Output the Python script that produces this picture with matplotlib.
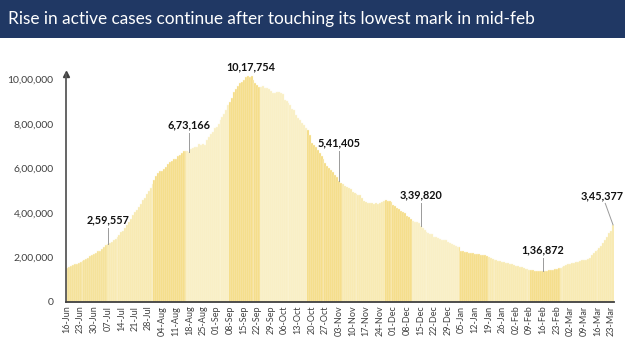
import matplotlib
matplotlib.use("Agg")
import matplotlib.pyplot as plt
import matplotlib.dates as mdates
from matplotlib.patches import Rectangle
import numpy as np
import pandas as pd

# Active COVID-19 cases in India, daily, in thousands (16-Jun-2020 to 24-Mar-2021)
jun = [153.178, 155.227, 160.384, 163.248, 168.269, 169.451, 174.387, 178.014,
       183.022, 186.514, 189.463, 197.387, 203.051, 210.120, 215.125]
jul = [220.114, 226.947, 227.439, 235.433, 244.814, 253.287, 259.557, 264.944,
       269.789, 276.882, 283.407, 292.258, 301.609, 311.565, 319.840, 331.146,
       342.473, 358.692, 373.379, 390.459, 402.529, 411.133, 426.167, 440.135,
       456.071, 467.882, 485.114, 496.988, 509.447, 528.242, 545.318]
aug = [565.103, 579.357, 586.298, 586.244, 595.501, 607.384, 619.088, 628.747,
       634.945, 639.929, 643.948, 653.622, 661.595, 668.220, 676.900, 677.444,
       676.514, 673.166, 686.395, 692.028, 697.330, 697.330, 707.668, 704.348,
       710.771, 707.267, 725.991, 742.023, 752.424, 765.302, 781.975]
sep = [785.996, 801.282, 815.538, 831.124, 846.395, 862.320, 883.697, 897.394,
       919.018, 943.480, 958.316, 973.175, 986.598, 990.061, 995.933, 1009.976,
       1017.754, 1010.824, 1013.964, 998.000, 986.000, 975.861, 968.377, 966.382,
       970.116, 960.969, 962.640, 956.402, 947.576, 940.441]
oct_ = [940.705, 944.996, 942.217, 937.625, 934.427, 907.883, 902.425, 893.592,
        883.185, 867.496, 861.853, 838.729, 826.876, 817.000, 804.528, 795.087,
        783.311, 772.055, 748.538, 715.000, 703.000, 695.509, 680.680, 668.154,
        654.000, 640.000, 626.000, 610.803, 603.687, 594.386, 582.649]
nov = [570.458, 561.908, 541.405, 533.787, 527.962, 520.773, 516.632, 509.673,
       505.265, 494.657, 489.294, 484.547, 480.719, 479.216, 465.478, 453.401,
       446.805, 444.746, 443.794, 443.303, 440.962, 443.486, 438.667, 444.746,
       447.803, 452.344, 455.555, 454.940, 453.956, 446.952]
dec = [435.603, 428.644, 422.943, 416.082, 409.689, 403.248, 396.729, 383.866,
       378.909, 372.293, 363.749, 359.819, 356.546, 352.586, 339.820, 332.002,
       322.366, 313.831, 308.751, 305.344, 303.639, 292.518, 289.240, 283.849,
       281.919, 278.690, 277.301, 277.301, 268.581, 262.272, 257.656]
jan = [254.254, 250.183, 247.220, 243.953, 228.083, 227.546, 224.190, 222.526,
       220.676, 220.000, 216.558, 214.507, 213.027, 213.603, 211.033, 208.826,
       208.012, 203.063, 200.528, 197.201, 192.308, 188.688, 185.662, 184.182,
       184.408, 178.950, 176.498, 173.740, 171.686, 169.824, 168.235]
feb = [163.353, 160.057, 159.590, 155.025, 154.823, 151.460, 148.609, 148.590,
       143.625, 142.000, 140.000, 138.000, 137.300, 137.500, 137.200, 136.872,
       137.500, 138.500, 140.000, 142.000, 144.000, 146.000, 148.000, 150.000,
       152.000, 155.000, 160.000, 164.000]
mar = [168.000, 170.000, 173.000, 174.000, 176.000, 180.000, 184.000, 188.000,
       189.000, 189.000, 190.000, 196.000, 210.000, 219.000, 226.000, 234.000,
       242.000, 252.000, 262.000, 276.000, 289.000, 309.000, 319.000, 345.377]

start_date = "2020-06-16"

# highlighted values
ann_dates = ["2020-07-07", "2020-08-18", "2020-09-17", "2020-11-03",
             "2020-12-15", "2021-02-16", "2021-03-24"]
ann_labels = ["2,59,557", "6,73,166", "10,17,754", "5,41,405",
              "3,39,820", "1,36,872", "3,45,377"]

values = np.array(jun + jul + aug + sep + oct_ + nov + dec + jan + feb + mar) * 1000
dates = pd.date_range(start_date, periods=len(values), freq="D")

# alternating shade blocks (day index where each block starts)
block_starts = [0, 21, 45, 62, 84, 100, 124, 142, 164, 178, 202, 217, 239, 254]
block_shades = ["#f4de8a", "#f7e8a8", "#f4d877", "#f9eec0", "#f4d877", "#f9eec0",
                "#f4d877", "#f7e8a8", "#f4d877", "#f9eec0", "#f4d877", "#f7e8a8",
                "#f4d877", "#f7e8a8"]
colors = []
for i in range(len(values)):
    k = np.searchsorted(block_starts, i, side="right") - 1
    colors.append(block_shades[k])

fig = plt.figure(figsize=(6.25, 3.51), dpi=100)

# title banner
fig.patches.append(Rectangle((0, 1 - 38 / 351), 1, 38 / 351, transform=fig.transFigure,
                             facecolor="#203864", edgecolor="none", zorder=0))
fig.text(8 / 625, 1 - 19 / 351, "Rise in active cases continue after touching its lowest mark in mid-feb",
         color="white", fontsize=12.4, family="Lato", ha="left", va="center")

ax = fig.add_axes([66 / 625, 1 - 301.5 / 351, (614 - 66) / 625, (301.5 - 74) / 351])
ax.bar(dates, values, width=1.0, color=colors, edgecolor="#fcf6de", linewidth=0.3)

ax.set_ylim(0, 1025000)
ax.set_xlim(dates[0] - pd.Timedelta(hours=12), dates[-1] + pd.Timedelta(hours=12))

ax.set_yticks(np.arange(0, 1000001, 200000))
ax.set_yticklabels(["0", "2,00,000", "4,00,000", "6,00,000", "8,00,000", "10,00,000"])
ax.set_xticks(dates[::7])
ax.xaxis.set_major_formatter(mdates.DateFormatter("%d-%b"))
for lab in ax.get_xticklabels():
    lab.set_rotation(90)

ax.tick_params(axis="y", length=0, pad=9, labelsize=7.5, labelcolor="#404040")
ax.tick_params(axis="x", length=0, pad=3, labelsize=6.5, labelcolor="#404040")
for lab in ax.get_xticklabels() + ax.get_yticklabels():
    lab.set_family("Lato")

for s in ["top", "right"]:
    ax.spines[s].set_visible(False)
ax.spines["left"].set_color("#595959")
ax.spines["left"].set_linewidth(1.3)
ax.spines["bottom"].set_color("#404040")
ax.spines["bottom"].set_linewidth(1.3)
ax.plot(0, 1, marker="^", ms=4, color="#404040", transform=ax.transAxes, clip_on=False)

# label position (day offset, height in thousands) and leader end
label_pos = [(0, 367), (0, 795), (1.7, 1056), (0, 714), (0, 480), (0, 232), (-5.5, 475)]
line_end = [(0, 333), (0, 760), None, (0, 678), (0, 445), (0, 197), (-4, 442)]
for d, lab, lp, le in zip(ann_dates, ann_labels, label_pos, line_end):
    dt = pd.Timestamp(d)
    v = values[dates.get_loc(dt)]
    if le is not None:
        ax.plot([dt, dt + pd.Timedelta(days=le[0])], [v, le[1] * 1000],
                color="#9a9a9a", lw=0.7, clip_on=False)
    ax.text(dt + pd.Timedelta(days=lp[0]), lp[1] * 1000, lab, ha="center", va="center",
            fontsize=7.8, fontweight="bold", family="Lato", color="#111111", clip_on=False)

fig.savefig("out.png", dpi=100)
